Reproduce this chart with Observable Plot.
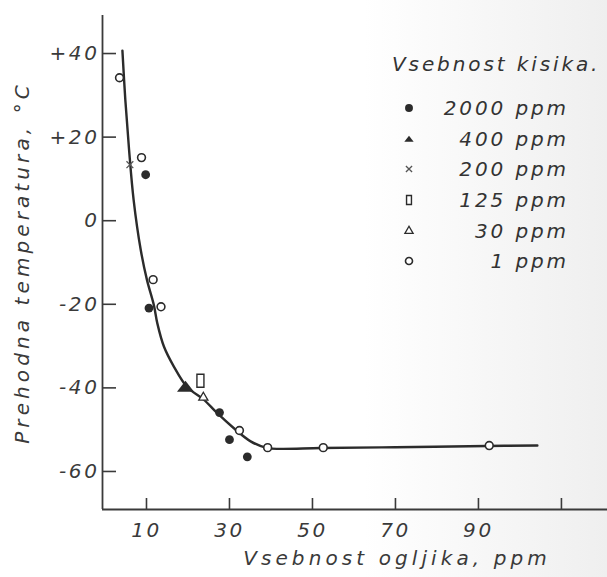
<!DOCTYPE html>
<html><head><meta charset="utf-8">
<script src="https://cdn.jsdelivr.net/npm/d3@7"></script>
<script src="https://cdn.jsdelivr.net/npm/@observablehq/plot@0.6"></script>
<style>
html,body{margin:0;padding:0;}
body{width:607px;height:577px;overflow:hidden;background:linear-gradient(to right,#ffffff 0%,#ffffff 60%,#efefef 100%);font-family:"DejaVu Sans",sans-serif;}
#wrap{position:relative;width:607px;height:577px;}
#legend{position:absolute;left:392px;top:52px;color:#333;font-style:italic;font-size:20px;line-height:24px;letter-spacing:2.9px;}
#legend .title{margin-bottom:17px;}
#legend .row{display:flex;align-items:center;height:30.6px;}
#legend .row svg{width:20px;height:20px;margin-left:7px;}
#legend .row span{width:150px;text-align:right;}
</style></head><body><div id="wrap"><div id="legend"></div></div>
<script>
// ---- data ----
const xTicks = [10, 30, 50, 70, 90];
const xTickLabels = ["10", "30", "50", "70", "90"];
const xTickMarks = [10, 30, 50, 70, 90, 110];
const yTicks = [40, 20, 0, -20, -40, -60];
const yTickLabels = ["+40", "+20", "0", "-20", "-40", "-60"];
const xDomain = [-0.6, 121.1];
const yDomain = [-69.1, 49.1];

const curveX = [4.2, 4.9, 5.8, 6.9, 8.6, 10.1, 11.8, 12.6, 14.2, 16.6, 19.8, 23.8, 27.0, 31.0, 35.1, 39.1, 42.3, 52, 70, 92, 104.2];
const curveY = [40.7, 28.9, 17.0, 5.0, -6.9, -14.1, -20.3, -24.5, -30.1, -34.9, -39.8, -42.8, -46.0, -49.6, -52.8, -54.4, -54.6, -54.4, -54.2, -53.9, -53.8];

const series = ["2000 ppm", "400 ppm", "200 ppm", "125 ppm", "30 ppm", "1 ppm"];
const legendTitle = "Vsebnost kisika.";
const x2000 = [9.8, 10.6, 27.6, 30.0, 34.3];
const y2000 = [11.0, -20.9, -45.9, -52.4, -56.5];
const x400 = [19.4];
const y400 = [-39.7];
const x200 = [6.0];
const y200 = [13.4];
const x125 = [23.0];
const y125 = [-38.3];
const x30 = [23.7];
const y30 = [-42.3];
const x1 = [3.5, 8.8, 11.6, 13.5, 32.4, 39.2, 52.6, 92.6];
const y1 = [34.2, 15.1, -14.1, -20.6, -50.2, -54.3, -54.3, -53.8];

const xLabel = "Vsebnost ogljika, ppm";
const yLabel = "Prehodna temperatura, °C";

// ---- tables ----
const curve = curveX.map((x, i) => ({x, y: curveY[i]}));
const seriesX = [x2000, x400, x200, x125, x30, x1];
const seriesY = [y2000, y400, y200, y125, y30, y1];
const points = series.flatMap((s, k) => seriesX[k].map((x, i) => ({series: s, x, y: seriesY[k][i]})));

// ---- symbol styles ----
const ink = "#2b2b2b";
const wideTriangle = {draw(ctx) { ctx.moveTo(0, -6); ctx.lineTo(8.5, 5); ctx.lineTo(-8.5, 5); ctx.closePath(); }};
const tallRect = {draw(ctx) { ctx.moveTo(-3.5, -6.5); ctx.lineTo(3.5, -6.5); ctx.lineTo(3.5, 6.5); ctx.lineTo(-3.5, 6.5); ctx.closePath(); }};
const styles = {
  "2000 ppm": {symbol: "circle", r: 4.4, fill: ink, stroke: "none"},
  "400 ppm": {symbol: wideTriangle, r: 5, fill: ink, stroke: "none"},
  "200 ppm": {symbol: "times", r: 3.2, fill: "none", stroke: "#555", strokeWidth: 1.3},
  "125 ppm": {symbol: tallRect, r: 5, fill: "white", stroke: ink, strokeWidth: 1.4},
  "30 ppm": {symbol: "triangle", r: 3.4, fill: "white", stroke: ink, strokeWidth: 1.3},
  "1 ppm": {symbol: "circle", r: 3.9, fill: "white", stroke: ink, strokeWidth: 1.6}
};

const dotMarks = series.map(s => Plot.dot(points.filter(d => d.series === s), {x: "x", y: "y", ...styles[s]}));

const chart = Plot.plot({
  width: 607,
  height: 577,
  marginLeft: 102,
  marginRight: 0,
  marginTop: 15,
  marginBottom: 68,
  style: {fontFamily: "DejaVu Sans, sans-serif", fontStyle: "italic", fontSize: "20px", letterSpacing: "2.6px", color: "#3a3a3a", background: "transparent"},
  x: {domain: xDomain},
  y: {domain: yDomain},
  marks: [
    Plot.ruleY([yDomain[0]], {stroke: "#3a3a3a", strokeWidth: 1.8}),
    Plot.ruleX([xDomain[0]], {stroke: "#3a3a3a", strokeWidth: 1.8}),
    Plot.axisX({ticks: xTickMarks, tickSize: -11, text: null, stroke: "#3a3a3a", strokeWidth: 1.6, label: null}),
    Plot.axisX({ticks: xTicks, tickSize: 0, tickPadding: 13, tickFormat: d => xTickLabels[xTicks.indexOf(d)], fontSize: 20, label: null}),
    Plot.axisY({ticks: yTicks, tickSize: -14, text: null, stroke: "#3a3a3a", strokeWidth: 1.6, label: null}),
    Plot.axisY({ticks: yTicks, tickSize: 0, tickPadding: 3, tickFormat: d => yTickLabels[yTicks.indexOf(d)], fontSize: 20, label: null}),
    Plot.text([xLabel], {frameAnchor: "bottom", dx: 42, dy: 55, fontSize: 20, fill: "#3a3a3a"}),
    Plot.text([yLabel], {frameAnchor: "left", textAnchor: "middle", rotate: -90, dx: -80, dy: 0, fontSize: 20, fill: "#3a3a3a"}),
    Plot.line(curve, {x: "x", y: "y", curve: "catmull-rom", stroke: ink, strokeWidth: 2.4}),
    ...dotMarks
  ]
});
d3.select(chart).selectAll("text")
  .filter(function() { return this.textContent === xLabel || this.textContent === yLabel; })
  .style("letter-spacing", "4.1px");
document.getElementById("wrap").prepend(chart);

// ---- legend ----
const legend = d3.select("#legend");
legend.append("div").attr("class", "title").text(legendTitle);
const symPath = s => {
  const st = styles[s];
  const sym = typeof st.symbol === "string" ? {circle: d3.symbolCircle, triangle: d3.symbolTriangle, times: d3.symbolTimes}[st.symbol] : st.symbol;
  const scale = s === "400 ppm" ? 0.55 : s === "125 ppm" ? 0.7 : 0.9;
  return {d: d3.symbol(sym, st.r * st.r * Math.PI)(), scale, st};
};
series.forEach(s => {
  const row = legend.append("div").attr("class", "row");
  const svg = row.append("svg").attr("viewBox", "-10 -10 20 20");
  const p = symPath(s);
  svg.append("path").attr("d", p.d).attr("transform", `scale(${p.scale})`)
    .attr("fill", p.st.fill).attr("stroke", p.st.stroke).attr("stroke-width", (p.st.strokeWidth || 0) / p.scale);
  row.append("span").text(s);
});
</script>
</body></html>
